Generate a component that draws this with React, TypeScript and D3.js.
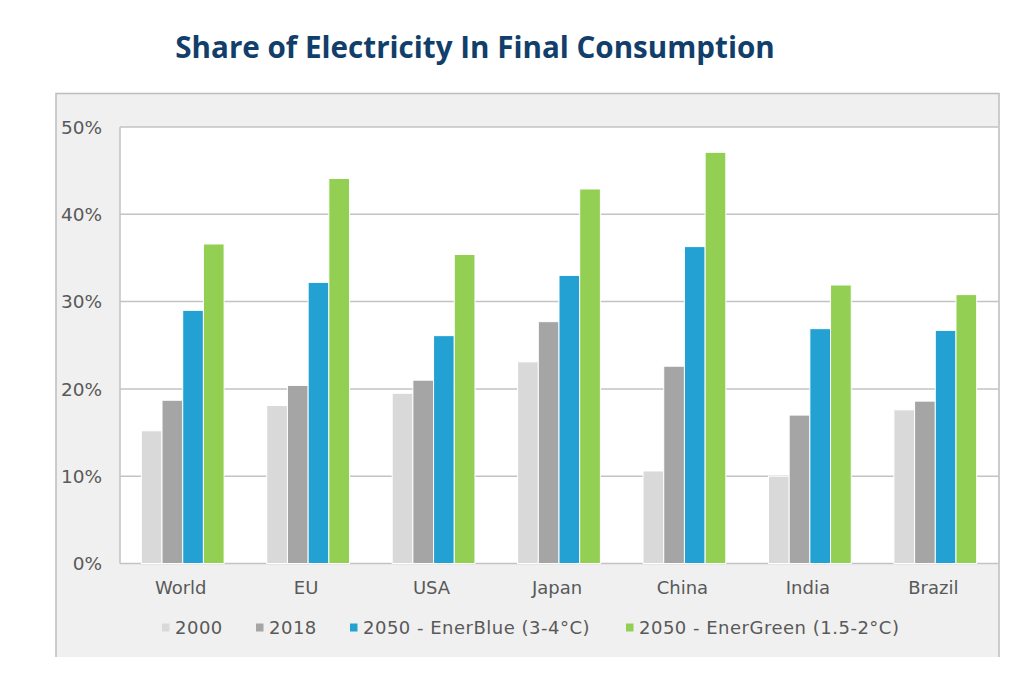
import { useEffect, useRef } from "react";
import * as d3 from "d3";

const categories = ["World", "EU", "USA", "Japan", "China", "India", "Brazil"];
const seriesNames = ["2000", "2018", "2050 - EnerBlue (3-4°C)", "2050 - EnerGreen (1.5-2°C)"];
const seriesColors = ["#d9d9d9", "#a5a5a5", "#23a1d3", "#92cf52"];

// share of electricity in final consumption, %
const v2000 = [15.2, 18.1, 19.5, 23.1, 10.6, 10.0, 17.6];
const v2018 = [18.7, 20.4, 21.0, 27.7, 22.6, 17.0, 18.6];
const vBlue = [29.0, 32.2, 26.1, 33.0, 36.3, 26.9, 26.7];
const vGreen = [36.6, 44.1, 35.4, 42.9, 47.1, 31.9, 30.8];
const seriesValues = [v2000, v2018, vBlue, vGreen];

const yTicks = [0, 10, 20, 30, 40, 50];

export default function App() {
    const svgRef = useRef<SVGSVGElement>(null);

    useEffect(() => {
        if (!svgRef.current) return;
        const svg = d3.select(svgRef.current);
        svg.selectAll("*").remove();

        const plot = { left: 120, right: 998, top: 127, bottom: 563.5 };
        const font = "'DejaVu Sans', Verdana, sans-serif";

        // title
        svg.append("text")
            .attr("x", 475)
            .attr("y", 58)
            .attr("text-anchor", "middle")
            .style("font-family", "'Open Sans', sans-serif")
            .style("font-weight", 700)
            .style("font-size", "29.6px")
            .attr("fill", "#113e6a")
            .text("Share of Electricity In Final Consumption");

        // chart frame
        svg.append("rect")
            .attr("x", 56)
            .attr("y", 93)
            .attr("width", 943)
            .attr("height", 564)
            .attr("fill", "#f0f0f0");
        svg.append("path")
            .attr("d", "M56,657V93.5H999V657")
            .attr("fill", "none")
            .attr("stroke", "#bdbdbd")
            .attr("stroke-width", 1.5);

        svg.append("rect")
            .attr("x", plot.left)
            .attr("y", plot.top)
            .attr("width", plot.right - plot.left)
            .attr("height", plot.bottom - plot.top)
            .attr("fill", "#ffffff");

        const y = d3.scaleLinear().domain([0, 50]).range([plot.bottom, plot.top]);
        const x0 = d3.scaleBand<string>().domain(categories).range([plot.left, plot.right]).padding(0);
        const groupW = x0.bandwidth() * 0.66;
        const x1 = d3.scaleBand<string>().domain(seriesNames).range([0, groupW]).padding(0);

        // gridlines
        svg.append("g")
            .selectAll("line")
            .data(yTicks)
            .enter()
            .append("line")
            .attr("x1", plot.left)
            .attr("x2", plot.right)
            .attr("y1", (d) => y(d))
            .attr("y2", (d) => y(d))
            .attr("stroke", "#c3c3c3")
            .attr("stroke-width", 1.5);
        svg.append("line")
            .attr("x1", plot.left)
            .attr("x2", plot.left)
            .attr("y1", plot.top)
            .attr("y2", plot.bottom)
            .attr("stroke", "#c3c3c3")
            .attr("stroke-width", 1.5);

        // y labels
        svg.append("g")
            .selectAll("text")
            .data(yTicks)
            .enter()
            .append("text")
            .attr("x", 102)
            .attr("y", (d) => y(d))
            .attr("dy", "0.36em")
            .attr("text-anchor", "end")
            .style("font-family", font)
            .style("font-size", "18.5px")
            .attr("fill", "#595959")
            .text((d) => `${d}%`);

        // bars
        const groups = svg.append("g")
            .selectAll("g")
            .data(categories)
            .enter()
            .append("g")
            .attr("transform", (c) => `translate(${x0(c)! + (x0.bandwidth() - groupW) / 2},0)`);

        groups.selectAll("rect")
            .data((c) => seriesNames.map((s, k) => ({ s, k, v: seriesValues[k][categories.indexOf(c)] })))
            .enter()
            .append("rect")
            .attr("x", (d) => x1(d.s)!)
            .attr("y", (d) => y(d.v))
            .attr("width", x1.bandwidth())
            .attr("height", (d) => y(0) - y(d.v))
            .attr("fill", (d) => seriesColors[d.k])
            .attr("stroke", "#ffffff")
            .attr("stroke-width", 1);

        // x labels
        svg.append("g")
            .selectAll("text")
            .data(categories)
            .enter()
            .append("text")
            .attr("x", (c) => x0(c)! + x0.bandwidth() / 2 - 2)
            .attr("y", 594)
            .attr("text-anchor", "middle")
            .style("font-family", font)
            .style("font-size", "18px")
            .attr("fill", "#595959")
            .text((c) => c);

        // legend
        const legendX = [162, 256, 350, 626];
        const legend = svg.append("g")
            .selectAll("g")
            .data(seriesNames)
            .enter()
            .append("g")
            .attr("transform", (d, i) => `translate(${legendX[i]},0)`);
        legend.append("rect")
            .attr("x", 0)
            .attr("y", 623.5)
            .attr("width", 7.5)
            .attr("height", 8)
            .attr("fill", (d, i) => seriesColors[i]);
        legend.append("text")
            .attr("x", 13)
            .attr("y", 634)
            .style("font-family", font)
            .style("font-size", "18px")
            .style("letter-spacing", "0.5px")
            .attr("fill", "#595959")
            .text((d) => d);
    }, []);

    return (
        <svg
            ref={svgRef}
            width={1024}
            height={673}
            style={{ position: "absolute", left: 0, top: 0, background: "#ffffff" }}
        ></svg>
    );
}
